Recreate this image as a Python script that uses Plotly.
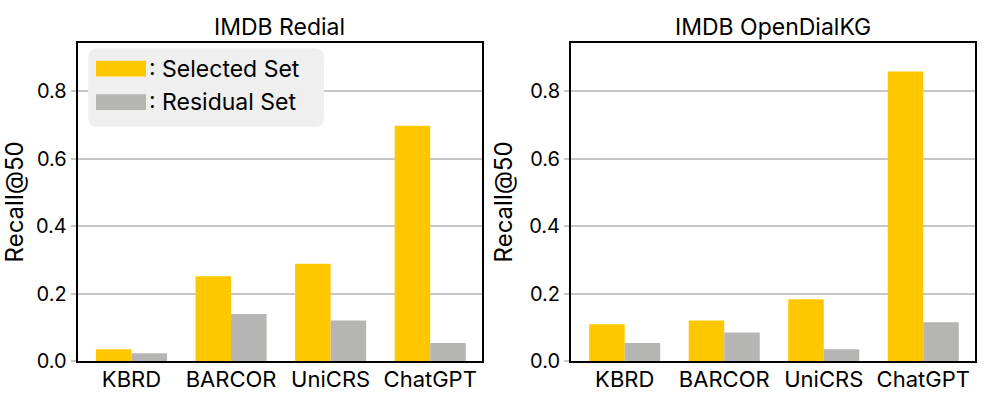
import plotly.graph_objects as go
from plotly.subplots import make_subplots

# data
models = ["KBRD", "BARCOR", "UniCRS", "ChatGPT"]
redial_selected = [0.036, 0.252, 0.289, 0.698]
redial_residual = [0.024, 0.140, 0.121, 0.054]
odkg_selected = [0.110, 0.121, 0.184, 0.859]
odkg_residual = [0.054, 0.085, 0.036, 0.116]
titles = ["IMDB Redial", "IMDB OpenDialKG"]
series_names = ["Selected Set", "Residual Set"]
y_ticks = [0.0, 0.2, 0.4, 0.6, 0.8]

YELLOW = "#ffc700"
GREY = "#b5b6b3"
GRID = "#c6c6c6"
FONT = "Inter"

fig = make_subplots(rows=1, cols=2)

panels = [(redial_selected, redial_residual), (odkg_selected, odkg_residual)]
for col, (sel, res) in enumerate(panels, start=1):
    fig.add_trace(go.Bar(x=models, y=sel, name=series_names[0], marker_color=YELLOW,
                         marker_line_width=0, showlegend=False), row=1, col=col)
    fig.add_trace(go.Bar(x=models, y=res, name=series_names[1], marker_color=GREY,
                         marker_line_width=0, showlegend=False), row=1, col=col)

x_domains = [[77.7 / 997, 482 / 997], [571 / 997, 975 / 997]]
y_domain = [(393 - 361.3) / 393, (393 - 42.5) / 393]

axis_common = dict(showline=True, linecolor="black", linewidth=2, mirror=True, automargin=False)
for i, xd in enumerate(x_domains, start=1):
    fig.update_xaxes(domain=xd, range=[-0.54, 3.52], showgrid=False, ticks="",
                     ticklabelstandoff=-3,
                     tickfont=dict(size=22, color="black", family=FONT),
                     **axis_common, row=1, col=i)
    fig.update_yaxes(domain=y_domain, range=[0, 0.945], tickvals=y_ticks,
                     ticktext=[f"{v:.1f}" for v in y_ticks],
                     showgrid=True, gridcolor=GRID, gridwidth=1.6, zeroline=False,
                     ticks="outside", ticklen=5, tickcolor=GRID, tickwidth=1.6,
                     tickfont=dict(size=20, color="black", family=FONT),
                     title=dict(text="Recall@50", font=dict(size=24, color="black", family=FONT),
                                standoff=10),
                     **axis_common, row=1, col=i)

# panel titles
for i, xd in enumerate(x_domains):
    fig.add_annotation(text=titles[i], x=(xd[0] + xd[1]) / 2, y=(393 - 27) / 393,
                       xref="paper", yref="paper", xanchor="center", yanchor="middle",
                       showarrow=False, font=dict(size=23, color="black", family=FONT))

# hand-drawn legend in the left panel (wide patches like the original)
W, H, r = 235.7, 78.4, 9
legend_path = (f"M {r},0 L {W - r},0 Q {W},0 {W},{-r} L {W},{-H + r} Q {W},{-H} {W - r},{-H} "
               f"L {r},{-H} Q 0,{-H} 0,{-H + r} L 0,{-r} Q 0,0 {r},0 Z")
fig.add_shape(type="path", path=legend_path, xref="x domain", yref="y domain",
              xsizemode="pixel", ysizemode="pixel", xanchor=0.026, yanchor=0.982,
              fillcolor="#efefef", line_width=0, layer="above")
patch_rows = [(0.943, 0.893, 0.918), (0.838, 0.788, 0.813)]
for (top, bot, mid), color, name in zip(patch_rows, [YELLOW, GREY], series_names):
    fig.add_shape(type="rect", xref="x domain", yref="y domain", x0=0.0453, x1=0.169,
                  y0=bot, y1=top, fillcolor=color, line_width=0, layer="above")
    fig.add_annotation(text=": " + name, xref="x domain", yref="y domain", x=0.172, y=mid,
                       xanchor="left", yanchor="middle", showarrow=False,
                       font=dict(size=23, color="black", family=FONT))

fig.update_layout(
    width=997, height=393,
    margin=dict(l=0, r=0, t=0, b=0),
    plot_bgcolor="white", paper_bgcolor="white",
    barmode="group", bargap=0.286, bargroupgap=0,
    font=dict(family=FONT, color="black"),
)

# page exactly the size of the figure: no default margin, no scroll area
page_css = ("document.documentElement.style.overflow = 'hidden';"
            "document.body.style.margin = '0';"
            "document.body.style.overflow = 'hidden';")
fig.write_html("out.html", config={"displayModeBar": False}, post_script=page_css)
